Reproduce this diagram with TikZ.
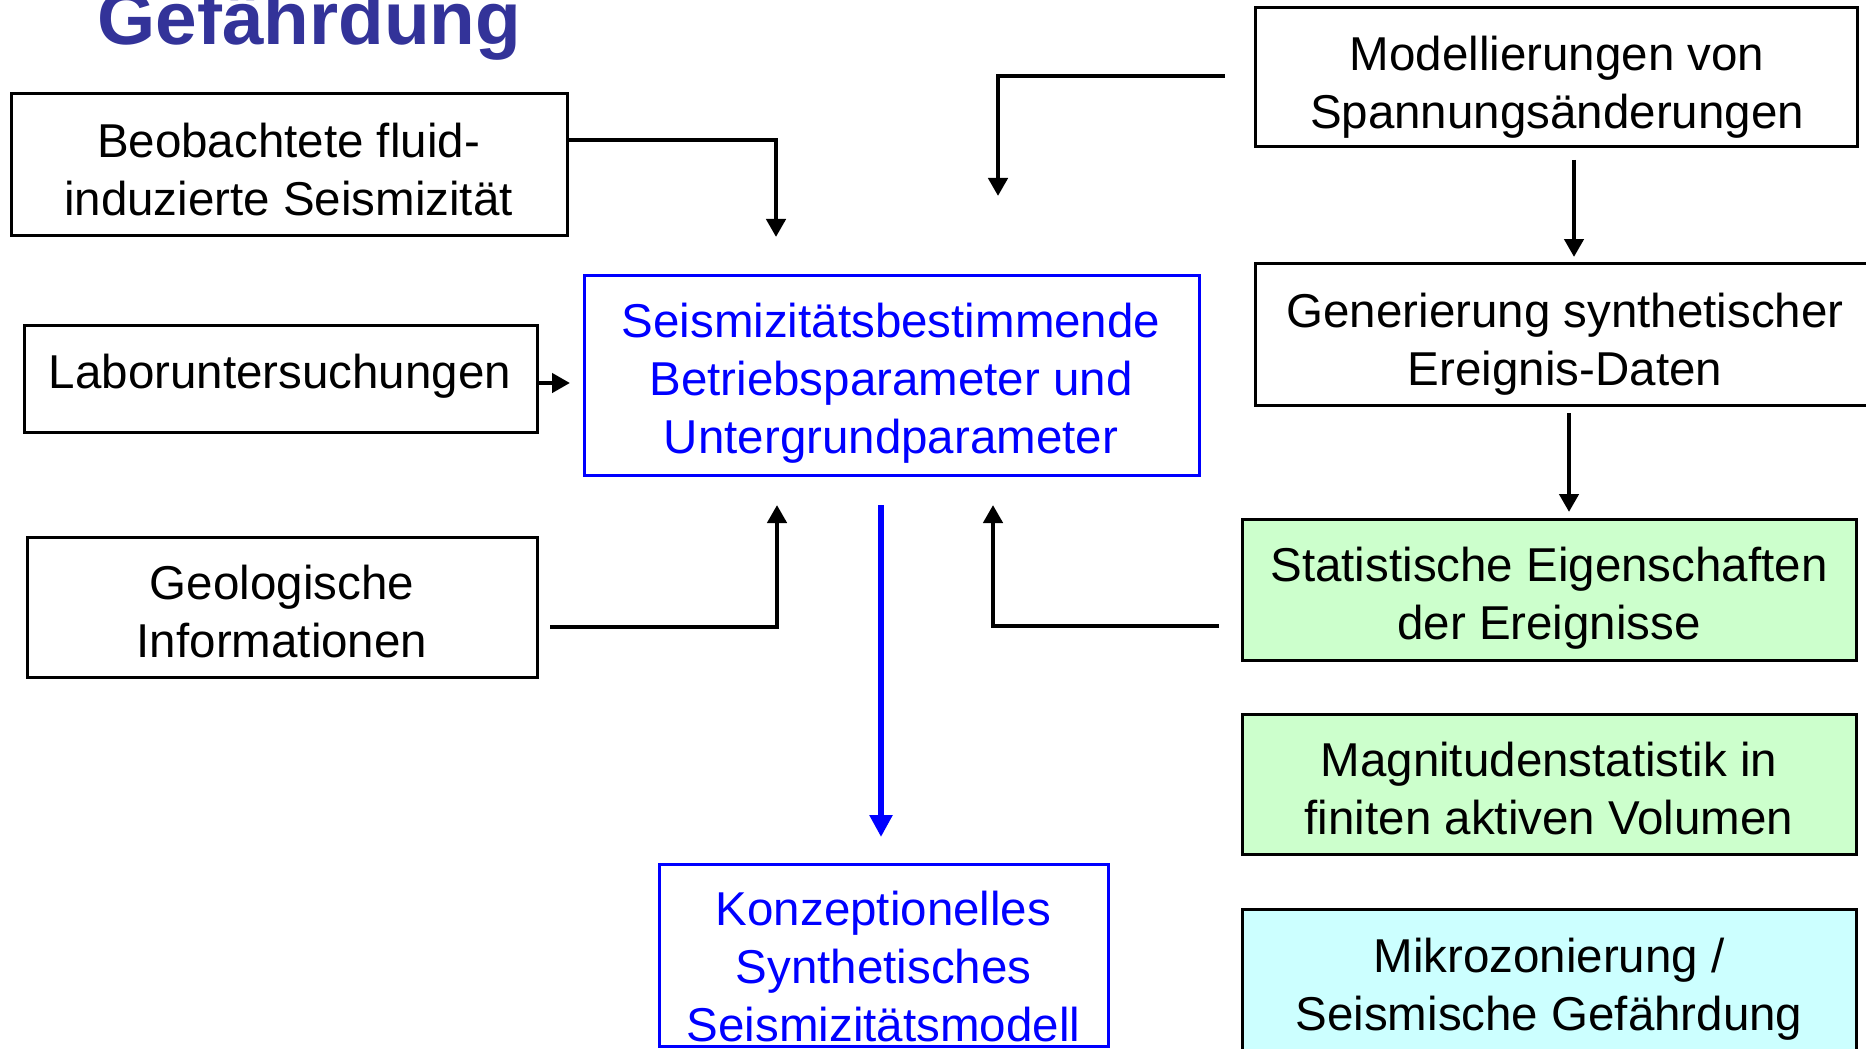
\documentclass[tikz,border=0pt]{standalone}
\usepackage{fontspec}
\setmainfont{Liberation Sans}
\usetikzlibrary{arrows.meta}
\definecolor{titleblue}{HTML}{333399}
\definecolor{pureblue}{HTML}{0000FF}
\definecolor{lightgreen}{HTML}{CCFFCC}
\definecolor{lightcyan}{HTML}{CCFFFF}
\begin{document}
\begin{tikzpicture}[x=0.5pt,y=-0.5pt,
  boxnode/.style={draw=black, line width=1.5pt, inner sep=0pt, outer sep=0pt, fill=white},
  bluebox/.style={boxnode, draw=pureblue},
  greenbox/.style={boxnode, fill=lightgreen},
  cyanbox/.style={boxnode, fill=lightcyan},
  txt/.style={inner sep=0pt, align=center, font=\fontsize{23.75}{29}\selectfont, text=black},
  bluetxt/.style={txt, text=pureblue},
  conn/.style={line width=2.2pt, -{Triangle[width=9.5pt,length=9pt]}},
  blueconn/.style={line width=3pt, draw=pureblue, -{Triangle[width=11pt,length=11pt]}}
]
\useasboundingbox (0,0) rectangle (1866,1048);

% title
\node[anchor=base west, inner sep=0pt, text=titleblue,
      font=\bfseries\fontsize{37.4}{44}\selectfont] (title) at (97,45) {Gefährdung};

% boxes
\node[boxnode, minimum width=278pt, minimum height=70.5pt] (beob) at (289,164.5) {};
\node[boxnode, minimum width=256.5pt, minimum height=53.5pt] (labor) at (280.5,378.5) {};
\node[boxnode, minimum width=255pt, minimum height=70pt] (geol) at (282,607) {};
\node[bluebox, minimum width=307.5pt, minimum height=100pt] (zentral) at (891.5,375) {};
\node[bluebox, minimum width=224.5pt, minimum height=91pt] (konz) at (883.5,955) {};
\node[boxnode, minimum width=301pt, minimum height=69.5pt] (modell) at (1556,77.5) {};
\node[boxnode, minimum width=307.5pt, minimum height=71pt] (gener) at (1562.5,334) {};
\node[greenbox, minimum width=307pt, minimum height=70.5pt] (stat) at (1549,589.5) {};
\node[greenbox, minimum width=307pt, minimum height=70pt] (magn) at (1549,784) {};
\node[cyanbox, minimum width=307pt, minimum height=75.5pt] (mikro) at (1549,984.5) {};

% texts
\node[txt] (beobT) at (288.5,170) {Beobachtete fluid-\\induzierte Seismizität};
\node[txt] (laborT) at (280,376) {Laboruntersuchungen};
\node[txt] (geolT) at (282,611.5) {Geologische\\Informationen};
\node[bluetxt] (zentralT) at (891,383) {Seismizitätsbestimmende\\Betriebsparameter und\\Untergrundparameter};
\node[bluetxt] (konzT) at (883.5,967) {Konzeptionelles\\Synthetisches\\Seismizitätsmodell};
\node[txt] (modellT) at (1557,87) {Modellierungen von\\Spannungsänderungen};
\node[txt] (generT) at (1565,344) {Generierung synthetischer\\Ereignis-Daten};
\node[txt] (statT) at (1549,598.5) {Statistische Eigenschaften\\der Ereignisse};
\node[txt] (magnT) at (1549,788.5) {Magnitudenstatistik in\\finiten aktiven Volumen};
\node[txt] (mikroT) at (1549,989) {Mikrozonierung /\\Seismische Gefährdung};

% free connector ends
\coordinate (t1) at (776,237);
\coordinate (t2) at (998,196);
\coordinate (m1) at (1574,160);
\coordinate (m2) at (1574,257);
\coordinate (g1) at (1569,413);
\coordinate (g2) at (1569,512);
\coordinate (l2) at (570,383);
\coordinate (q1) at (550,627);
\coordinate (t6) at (777,505);
\coordinate (s1) at (1219,626);
\coordinate (t7) at (993,505);
\coordinate (b1) at (881,505);
\coordinate (b2) at (881,837);

% connectors
\draw[conn] ([yshift=-23pt]beob.north east) -| (t1);
\draw[conn] ([xshift=-15pt,yshift=0.75pt]modell.west) -| (t2);
\draw[conn] (m1) -- (m2);
\draw[conn] (g1) -- (g2);
\draw[conn] ([yshift=-2.25pt]labor.east) -- (l2);
\draw[conn] (q1) -| (t6);
\draw[conn] (s1) -| (t7);
\draw[blueconn] (b1) -- (b2);
\end{tikzpicture}
\end{document}
